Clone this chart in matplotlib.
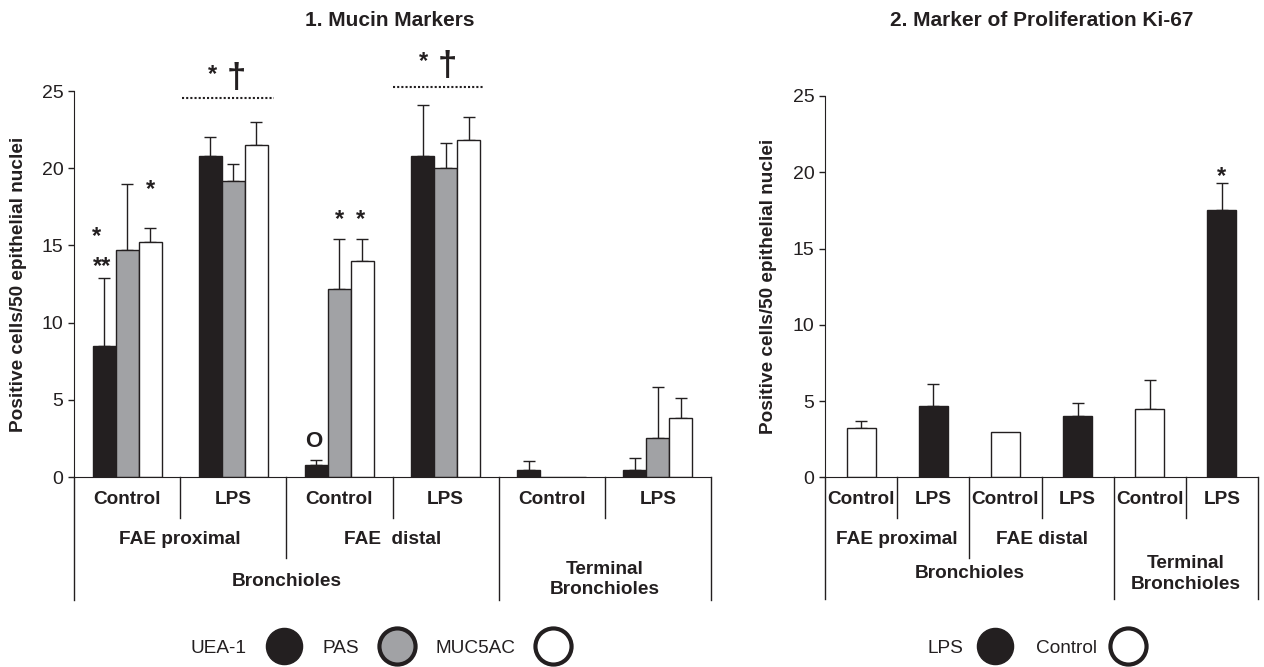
import matplotlib.pyplot as plt
import numpy as np
from matplotlib.lines import Line2D
from matplotlib.transforms import blended_transform_factory

plt.rcParams['font.family'] = ['Liberation Sans', 'DejaVu Sans']

W, H = 1264, 667
DARK = '#231f20'
GREY = '#a1a2a5'

# --- data, panel 1 (mucin markers) ---
conditions = ['Control', 'LPS', 'Control', 'LPS', 'Control', 'LPS']
uea1 = [8.5, 20.8, 0.8, 20.8, 0.45, 0.45]
uea1_err = [4.4, 1.2, 0.3, 3.3, 0.6, 0.8]
pas = [14.7, 19.2, 12.2, 20.0, 0.0, 2.5]
pas_err = [4.3, 1.1, 3.2, 1.6, 0.0, 3.3]
muc5ac = [15.2, 21.5, 14.0, 21.8, 0.0, 3.8]
muc5ac_err = [0.9, 1.5, 1.4, 1.5, 0.0, 1.3]

# --- data, panel 2 (Ki-67) ---
ki67 = [3.2, 4.7, 3.0, 4.0, 4.5, 17.5]
ki67_err = [0.5, 1.4, 0.0, 0.9, 1.9, 1.8]

sites1 = ['FAE proximal', 'FAE  distal']
sites2 = ['FAE proximal', 'FAE distal']
regions = ['Bronchioles', 'Terminal\nBronchioles']
yticks = [0, 5, 10, 15, 20, 25]
ylab = 'Positive cells/50 epithelial nuclei'

FS = 13.7


def fy(py):
    # pixel row -> figure fraction
    return 1 - py / H


def style_axis(ax, label_x):
    ax.set_xlim(0, 6)
    ax.set_ylim(0, 25)
    ax.set_yticks(yticks)
    ax.set_xticks([])
    for s in ['top', 'right']:
        ax.spines[s].set_visible(False)
    ax.spines['left'].set_color(DARK)
    ax.spines['bottom'].set_color(DARK)
    ax.tick_params(axis='y', direction='out', length=4.5, width=1, color=DARK,
                   labelsize=14, pad=3, labelcolor=DARK)
    ax.set_ylabel(ylab, fontsize=13.7, fontweight='bold', color=DARK)
    ax.yaxis.set_label_coords(label_x, 0.5)


def hierarchy(ax, row1, div1, row2, div2, row3, div3, site_names):
    tr = blended_transform_factory(ax.transData, fig.transFigure)
    y0 = ax.get_position().y0
    for i, c in enumerate(conditions):
        ax.text(i + 0.5, fy(row1), c, transform=tr, ha='center', va='center',
                fontsize=FS, fontweight='bold', color=DARK)
    for x in [1, 3, 5]:
        ax.plot([x, x], [y0, fy(div1)], transform=tr, color=DARK, lw=1, clip_on=False)
    ax.plot([2, 2], [y0, fy(div2)], transform=tr, color=DARK, lw=1, clip_on=False)
    for x in [0, 4, 6]:
        ax.plot([x, x], [y0, fy(div3)], transform=tr, color=DARK, lw=1, clip_on=False)
    for i, s in enumerate(site_names):
        ax.text(2 * i + 1, fy(row2), s, transform=tr, ha='center', va='center',
                fontsize=FS, fontweight='bold', color=DARK)
    ax.text(2, fy(row3[0]), regions[0], transform=tr, ha='center', va='center',
            fontsize=FS, fontweight='bold', color=DARK)
    ax.text(5, fy(row3[1]), regions[1], transform=tr, ha='center', va='center',
            fontsize=FS, fontweight='bold', color=DARK, linespacing=1.25)


fig = plt.figure(figsize=(W / 100, H / 100), dpi=100)

# ---------------- panel 1 ----------------
ax1 = fig.add_axes([74 / W, fy(477), 637 / W, 386 / H])
x = np.arange(6) + 0.5
bw = 0.217
series = [(uea1, uea1_err, DARK, -bw), (pas, pas_err, GREY, 0), (muc5ac, muc5ac_err, 'white', bw)]
for vals, err, col, off in series:
    ax1.bar(x + off, vals, bw, color=col, edgecolor=DARK, linewidth=1, zorder=2)
    err = np.array(err)
    m = err > 0
    ax1.errorbar((x + off)[m], np.array(vals)[m], yerr=[np.zeros(m.sum()), err[m]],
                 fmt='none', ecolor=DARK, elinewidth=1, capsize=4, capthick=1, zorder=1)
style_axis(ax1, -0.074)
fig.text(390 / W, fy(20), '1. Mucin Markers', ha='center', va='center',
         fontsize=15, fontweight='bold', color=DARK)

# significance marks
star = dict(ha='center', va='center', fontsize=17, fontweight='bold', color=DARK, clip_on=False)
ax1.text(0.21, 15.55, '*', **star)
ax1.text(0.26, 13.65, '**', **star)
ax1.text(0.716, 18.65, '*', **star)
ax1.text(2.50, 16.65, '*', **star)
ax1.text(2.70, 16.65, '*', **star)
ax1.text(2.26, 2.3, 'O', ha='center', va='center', fontsize=16, fontweight='bold', color=DARK)
for (xa, xb, yl, ys) in [(1.017, 1.884, 24.53, 25.8), (3.005, 3.862, 25.24, 26.6)]:
    ax1.plot([xa, xb], [yl, yl], color=DARK, lw=1.5, ls=(0, (1, 1)), clip_on=False)
    ax1.text(xa + 0.29, ys + 0.3, '*', **star)
    ax1.text(xa + 0.51, ys, '\u2020', ha='center', va='center', fontsize=25,
             fontweight='bold', color=DARK, clip_on=False)

hierarchy(ax1, 500, 518, 540, 558, (581, 579.5), 600, sites1)

# ---------------- panel 2 ----------------
ax2 = fig.add_axes([825 / W, fy(477.3), 433 / W, 381.3 / H])
cols = ['white' if c == 'Control' else DARK for c in conditions]
ax2.bar(x, ki67, 0.4, color=cols, edgecolor=DARK, linewidth=1, zorder=2)
e2 = np.array(ki67_err)
m2 = e2 > 0
ax2.errorbar(x[m2], np.array(ki67)[m2], yerr=[np.zeros(m2.sum()), e2[m2]],
             fmt='none', ecolor=DARK, elinewidth=1, capsize=4, capthick=1, zorder=1)
style_axis(ax2, -0.111)
fig.text(1042 / W, fy(20), '2. Marker of Proliferation Ki-67', ha='center', va='center',
         fontsize=15, fontweight='bold', color=DARK)
ax2.text(5.49, 19.75, '*', **star)
hierarchy(ax2, 500, 518, 540, 558, (574, 574), 599, sites2)


# ---------------- legends ----------------
def dot(face, mew):
    return Line2D([], [], ls='', marker='o', markersize=26, markerfacecolor=face,
                  markeredgecolor=DARK, markeredgewidth=mew)


leg_kw = dict(loc='center', frameon=False, markerfirst=False, fontsize=13.7,
              handlelength=1.5)
leg1 = fig.legend([dot(DARK, 1), dot(GREY, 3), dot('white', 3)], ['UEA-1', 'PAS', 'MUC5AC'],
                  bbox_to_anchor=(379 / W, fy(648)), ncol=3, handletextpad=1.2,
                  columnspacing=1.3, **leg_kw)
leg2 = fig.legend([dot(DARK, 1), dot('white', 3)], ['LPS', 'Control'],
                  bbox_to_anchor=(1035 / W, fy(648)), ncol=2, handletextpad=0.9,
                  columnspacing=1.4, **leg_kw)
for lg in (leg1, leg2):
    for t in lg.get_texts():
        t.set_color(DARK)

fig.savefig('out.png', dpi=100, facecolor='white')
